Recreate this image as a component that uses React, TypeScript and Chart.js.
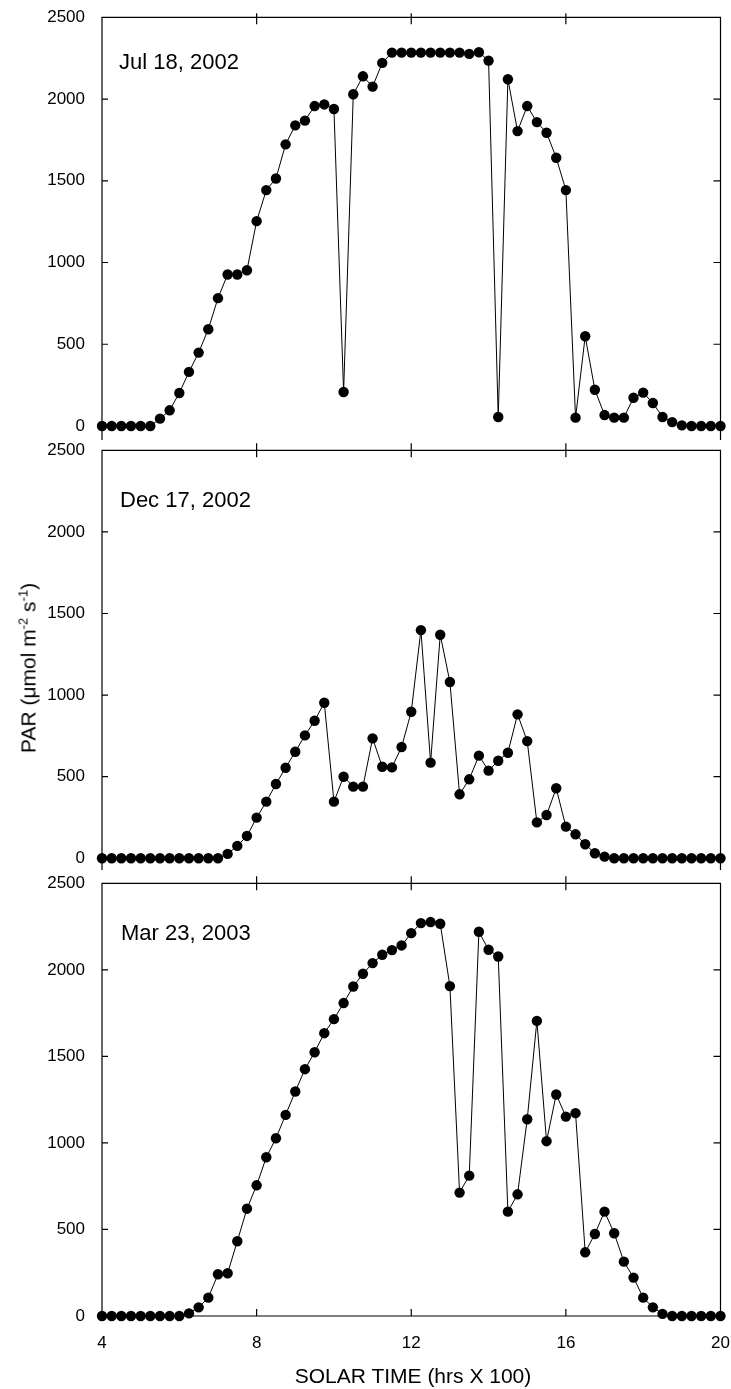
import React, { useEffect, useRef } from "react";
import { Chart, registerables } from "chart.js";

Chart.register(...registerables);

const FONT = '"Liberation Sans", Arial, Helvetica, sans-serif';
Chart.defaults.font.family = FONT;

// Solar time (hours), 15-minute readings
const solarTime = [
  4, 4.25, 4.5, 4.75, 5, 5.25, 5.5, 5.75,
  6, 6.25, 6.5, 6.75, 7, 7.25, 7.5, 7.75,
  8, 8.25, 8.5, 8.75, 9, 9.25, 9.5, 9.75,
  10, 10.25, 10.5, 10.75, 11, 11.25, 11.5, 11.75,
  12, 12.25, 12.5, 12.75, 13, 13.25, 13.5, 13.75,
  14, 14.25, 14.5, 14.75, 15, 15.25, 15.5, 15.75,
  16, 16.25, 16.5, 16.75, 17, 17.25, 17.5, 17.75,
  18, 18.25, 18.5, 18.75, 19, 19.25, 19.5, 19.75,
  20,
];

const parJul18 = [
  0, 0, 0, 0, 0, 0, 45, 96,
  202, 331, 449, 592, 782, 927, 927, 953,
  1253, 1443, 1514, 1723, 1839, 1868, 1957, 1967,
  1939, 208, 2029, 2139, 2076, 2221, 2284, 2284,
  2284, 2284, 2284, 2284, 2284, 2284, 2276, 2286,
  2235, 55, 2121, 1804, 1957, 1859, 1794, 1641,
  1443, 51, 549, 222, 67, 51, 51, 173,
  204, 141, 55, 24, 4, 0, 0, 0,
  0,
];

const parDec17 = [
  0, 0, 0, 0, 0, 0, 0, 0,
  0, 0, 0, 0, 0, 27, 76, 137,
  249, 347, 455, 555, 653, 753, 843, 953,
  347, 500, 439, 439, 735, 561, 557, 682,
  898, 1398, 586, 1370, 1080, 392, 484, 629,
  537, 598, 647, 882, 718, 220, 265, 429,
  194, 147, 86, 31, 10, 0, 0, 0,
  0, 0, 0, 0, 0, 0, 0, 0,
  0,
];

const parMar23 = [
  0, 0, 0, 0, 0, 0, 0, 0,
  0, 15, 50, 106, 241, 247, 432, 620,
  755, 917, 1027, 1162, 1297, 1426, 1524, 1634,
  1715, 1808, 1904, 1977, 2039, 2087, 2114, 2141,
  2212, 2270, 2276, 2266, 1906, 713, 811, 2220,
  2116, 2077, 603, 703, 1137, 1705, 1010, 1280,
  1152, 1172, 368, 474, 603, 478, 314, 222,
  106, 50, 12, 0, 0, 0, 0, 0,
  0,
];

const yTicks = [0, 500, 1000, 1500, 2000, 2500];
const xTicks = [4, 8, 12, 16, 20];
const panelLabels = ["Jul 18, 2002", "Dec 17, 2002", "Mar 23, 2003"];
const xTitle = "SOLAR TIME (hrs X 100)";

const framePlugin = {
  id: "frame",
  beforeDatasetsDraw(chart: any, _args: any, opts: any) {
    const { ctx, chartArea: a, scales } = chart;
    const xs = scales.x;
    const ys = scales.y;
    ctx.save();
    ctx.strokeStyle = "#000";
    ctx.lineWidth = 1.2;
    ctx.beginPath();
    ctx.moveTo(a.left, a.bottom);
    ctx.lineTo(a.left, a.top);
    ctx.lineTo(a.right, a.top);
    ctx.lineTo(a.right, a.bottom);
    if (opts.bottom) {
      ctx.moveTo(a.left, a.bottom);
      ctx.lineTo(a.right, a.bottom);
    }
    for (const v of yTicks) {
      const py = ys.getPixelForValue(v);
      ctx.moveTo(a.left, py);
      ctx.lineTo(a.left + 6, py);
      ctx.moveTo(a.right, py);
      ctx.lineTo(a.right - 7, py);
    }
    for (const v of xTicks) {
      if (v === xTicks[0] || v === xTicks[xTicks.length - 1]) continue;
      const px = xs.getPixelForValue(v);
      ctx.moveTo(px, a.top - opts.topUp);
      ctx.lineTo(px, a.top + 7);
      if (opts.bottom) {
        ctx.moveTo(px, a.bottom);
        ctx.lineTo(px, a.bottom - 7);
      }
    }
    ctx.stroke();
    ctx.restore();
  },
};

type PanelProps = {
  values: number[];
  top: number;
  height: number;
  padTop: number;
  padBottom: number;
  yMin: number;
  showX: boolean;
  topUp: number;
};

function Panel({ values, top, height, padTop, padBottom, yMin, showX, topUp }: PanelProps) {
  const ref = useRef<HTMLCanvasElement | null>(null);
  useEffect(() => {
    if (!ref.current) return;
    const pts = solarTime.map((t, i) => ({ x: t, y: values[i] }));
    const chart = new Chart(ref.current, {
      type: "line",
      data: {
        datasets: [
          {
            data: pts,
            borderColor: "#000",
            borderWidth: 1,
            pointRadius: 5.2,
            pointHoverRadius: 5.2,
            pointBackgroundColor: "#000",
            pointBorderColor: "#000",
            pointBorderWidth: 0,
            tension: 0,
            clip: false as any,
          },
        ],
      },
      options: {
        responsive: false,
        animation: false,
        events: [],
        layout: { padding: { top: padTop, bottom: padBottom, left: 0, right: 10.5 } },
        plugins: {
          legend: { display: false },
          tooltip: { enabled: false },
          frame: { bottom: showX, topUp },
        } as any,
        scales: {
          x: {
            type: "linear",
            min: 4,
            max: 20,
            display: showX,
            afterBuildTicks: (s: any) => {
              s.ticks = xTicks.map((v) => ({ value: v }));
            },
            afterFit: (s: any) => {
              s.height = showX ? 40 : 0;
              s.paddingLeft = 0;
              s.paddingRight = 0;
              s.paddingTop = 0;
              s.paddingBottom = 0;
            },
            ticks: {
              font: { size: 17 },
              color: "#000",
              padding: 9,
              maxRotation: 0,
              autoSkip: false,
              callback: (v: any) => String(v),
            },
            grid: { display: false },
            border: { display: false },
          },
          y: {
            type: "linear",
            min: yMin,
            max: 2500,
            afterBuildTicks: (s: any) => {
              s.ticks = yTicks.map((v) => ({ value: v }));
            },
            afterFit: (s: any) => {
              s.width = 102;
              s.paddingLeft = 0;
              s.paddingRight = 0;
              s.paddingTop = 0;
              s.paddingBottom = 0;
            },
            ticks: {
              font: { size: 17 },
              color: "#000",
              padding: 9,
              callback: (v: any) => String(v),
            },
            grid: { display: false },
            border: { display: false },
          },
        },
      },
      plugins: [framePlugin as any],
    });
    return () => chart.destroy();
  }, [values, padTop, padBottom, yMin, showX, topUp]);
  return (
    <canvas
      ref={ref}
      width={731}
      height={height}
      style={{ position: "absolute", left: 0, top, width: 731, height }}
    />
  );
}

const labelStyle: React.CSSProperties = {
  position: "absolute",
  fontFamily: FONT,
  fontSize: 22,
  lineHeight: "22px",
  color: "#000",
  whiteSpace: "nowrap",
};

const supStyle: React.CSSProperties = {
  fontSize: 13,
  position: "relative",
  top: -8,
  verticalAlign: "baseline",
  lineHeight: 0,
};

export default function App() {
  return (
    <div
      style={{
        position: "absolute",
        left: 0,
        top: 0,
        width: 731,
        height: 1389,
        background: "#fff",
        overflow: "hidden",
        fontFamily: FONT,
      }}
    >
      <Panel values={parJul18} top={0} height={460} padTop={17.3} padBottom={20} yMin={-85.6} showX={false} topUp={4} />
      <Panel values={parDec17} top={433} height={460} padTop={17.3} padBottom={23} yMin={-71.7} showX={false} topUp={7} />
      <Panel values={parMar23} top={866} height={523} padTop={17.3} padBottom={33} yMin={0} showX={true} topUp={7} />

      <div style={{ ...labelStyle, left: 119, top: 51.4 }}>{panelLabels[0]}</div>
      <div style={{ ...labelStyle, left: 120, top: 488.7 }}>{panelLabels[1]}</div>
      <div style={{ ...labelStyle, left: 121, top: 922.4 }}>{panelLabels[2]}</div>

      <div
        style={{
          position: "absolute",
          left: 413,
          top: 1375,
          transform: "translate(-50%, -50%)",
          fontSize: 21,
          lineHeight: "21px",
          whiteSpace: "nowrap",
          color: "#000",
        }}
      >
        {xTitle}
      </div>

      <div
        style={{
          position: "absolute",
          left: 28,
          top: 668,
          transform: "translate(-50%, -50%) rotate(-90deg)",
          fontSize: 21,
          lineHeight: "21px",
          whiteSpace: "nowrap",
          color: "#000",
        }}
      >
        PAR (μmol m<span style={supStyle}>-2</span> s<span style={supStyle}>-1</span>)
      </div>
    </div>
  );
}
